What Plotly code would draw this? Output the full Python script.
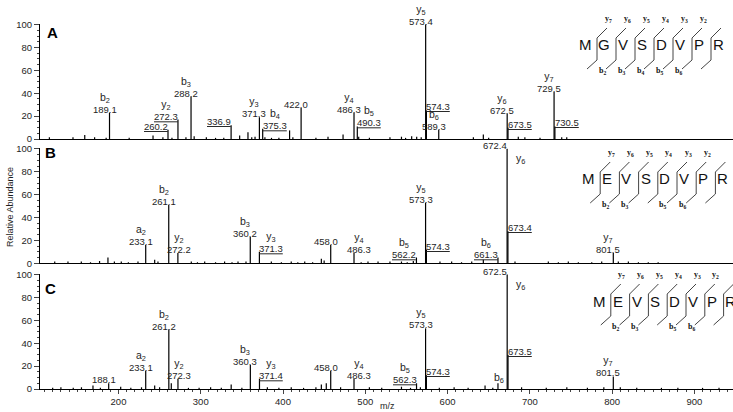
import plotly.graph_objects as go

W, H = 733, 412

# ---------------- data ----------------
# Panel A : MGVSDVPR
a_mz = [189.1, 260.2, 272.3, 288.2, 336.9, 371.3, 375.3, 422.0, 486.3, 490.3,
        573.4, 574.3, 589.3, 672.5, 673.5, 729.5, 730.5]
a_int = [23, 8, 17, 37, 12, 19, 9, 27, 23, 11, 100, 25, 8, 22, 10, 41, 11]
a_ion = ['b2', '', 'y2', 'b3', '', 'y3', 'b4', '', 'y4', 'b5',
         'y5', '', 'b6', 'y6', '', 'y7', '']
a_txt = ['189.1', '260.2', '272.3', '288.2', '336.9', '371.3', '375.3', '422.0', '486.3', '490.3',
         '573.4', '574.3', '589.3', '672.5', '673.5', '729.5', '730.5']
a_noise_mz = [116, 144.7, 159, 171, 185, 213, 242, 254, 265, 282, 292, 306.8, 318, 328,
              347.3, 357.4, 362, 366, 378, 386, 395, 408, 412, 440, 454.7, 473, 492, 505,
              530, 544, 549, 556.4, 562.5, 568, 631.4, 643.5, 650, 686, 694, 712.4, 738.8, 744.9]
a_noise_int = [1.5, 1.5, 3.5, 1.5, 1, 1, 3, 1.5, 1, 1.5, 2.5, 1.5, 1, 1,
               3, 6, 1.5, 2, 1.5, 1, 1, 7.5, 1.5, 1, 2, 4, 2, 1,
               1.5, 2, 1, 2.5, 2, 1.5, 1.5, 4, 1, 2, 1.5, 1, 1.5, 1.5]

# Panel B : MEVSDVPR
b_mz = [233.1, 261.1, 272.2, 360.2, 371.3, 458.0, 486.3, 562.2, 573.3, 574.3,
        661.3, 672.4, 673.4, 801.5]
b_int = [16, 51, 9, 23, 10, 16, 9, 5, 53, 12, 5, 100, 28, 9]
b_ion = ['a2', 'b2', 'y2', 'b3', 'y3', '', 'y4', 'b5', 'y5', '', 'b6', 'y6', '', 'y7']
b_txt = ['233.1', '261.1', '272.2', '360.2', '371.3', '458.0', '486.3', '562.2', '573.3', '574.3',
         '661.3', '672.4', '673.4', '801.5']
b_noise_mz = [122.5, 138.6, 154.8, 166, 177, 187.2, 195, 203.4, 212, 223.7, 244, 248,
              288.5, 296, 304.8, 318, 329, 338, 345.3, 355, 385.8, 398, 410, 418, 426.4,
              436, 446.6, 450, 495, 503.3, 515.5, 530, 544, 551, 558.4, 590.8, 605, 617,
              629.4, 643.5, 682, 722.5, 734.7, 746.8, 759, 775.3, 787.4, 807.6, 819.8,
              832, 844, 856]
b_noise_int = [1.5, 1.5, 1.5, 1, 2, 5, 1.5, 1.5, 1, 1.5, 3, 1.5,
               1.5, 1, 1.5, 1, 1.5, 1, 1.5, 1.5, 1.5, 1, 1.5, 1, 1.5,
               1, 4, 2.5, 1, 1.5, 1.5, 1.5, 1.5, 1, 2, 1.5, 1.5, 1,
               1.5, 3, 1.5, 1.5, 1, 1.5, 1, 1, 1.5, 1.5, 1.5,
               1, 1, 1]

# Panel C : MEVSDVPR
c_mz = [188.1, 233.1, 261.2, 272.3, 360.3, 371.4, 458.0, 486.3, 562.3, 573.3,
        574.3, 661.3, 672.5, 673.5, 801.5]
c_int = [5, 16, 52, 9, 21, 9, 16, 9, 5, 53, 12, 5, 100, 30, 11]
c_ion = ['', 'a2', 'b2', 'y2', 'b3', 'y3', '', 'y4', 'b5', 'y5', '', 'b6', 'y6', '', 'y7']
c_txt = ['188.1', '233.1', '261.2', '272.3', '360.3', '371.4', '458.0', '486.3', '562.3', '573.3',
         '574.3', '', '672.5', '673.5', '801.5']
c_noise_mz = [120, 130, 145, 155, 169, 178, 202.7, 215, 228, 244, 250, 264.2, 285, 298,
              312, 325, 337, 350, 381, 395, 410, 425, 440, 446.6, 452.6, 470, 505, 520,
              544, 555, 567, 590, 608, 625, 645.6, 655, 690, 720, 745, 770, 790, 810,
              830, 860, 880, 910, 930]
c_noise_int = [1, 1.5, 1, 1.5, 3, 1, 2, 1, 1.5, 3, 1.5, 5, 1, 1,
               1.5, 1, 4, 1, 1.5, 1, 1.5, 1, 1.5, 4, 5, 1.5, 1.5, 1,
               2, 1, 1.5, 1, 1.5, 1, 3, 1, 1.5, 1, 1.5, 1, 1.5, 1.5,
               1, 1, 1, 1, 1]

seq_a = 'MGVSDVPR'
seq_b = 'MEVSDVPR'
y_ions = ['y7', 'y6', 'y5', 'y4', 'y3', 'y2']
b_ions_a = ['b2', 'b3', 'b4', 'b5', 'b6']
b_ions_bc = ['b2', 'b3', None, 'b5', 'b6']

# ---------------- label placement (style only) ----------------
a_place = ['c', 'r', 'r', 'c', 'r', 'c', 'l', 'c', 'c', 'l', 'c', 'l', 'c', 'c', 'l', 'c', 'l']
b_place = ['c', 'c', 'c0', 'c', 'l', 'c', 'c+', 'r', 'c', 'l', 'r', 'rs', 'l', 'c']
c_place = ['c', 'c', 'c', 'c0', 'c', 'l', 'c', 'c+', 'r', 'c', 'l', 'c0', 'rs', 'l', 'c']
MODES = {'c': ('center', -5), 'c0': ('center', 1), 'c+': ('center', 5),
         'l': ('left', -1), 'r': ('right', 1), 'rs': ('right', 1)}

FONT = 'Arial, Liberation Sans, sans-serif'
TXT = '#1e1e1e'


def px(x):
    return x / W


def py(y):
    return 1 - y / H


def ion_html(s):
    return s[0] + '<sub>' + s[1:] + '</sub>'


def sticks(mz, inten):
    xs, ys = [], []
    for m, v in zip(mz, inten):
        xs += [m, m, None]
        ys += [0, v, None]
    return xs, ys


def paper_text(x, y, text, **kw):
    d = dict(x=px(x), y=py(y), xref='paper', yref='paper', text=text, showarrow=False,
             xanchor='center', yanchor='middle')
    d.update(kw)
    return d


fig = go.Figure()
annotations = []
shapes = []

panels = [
    ('1', a_mz, a_int, a_ion, a_txt, a_place, a_noise_mz, a_noise_int),
    ('2', b_mz, b_int, b_ion, b_txt, b_place, b_noise_mz, b_noise_int),
    ('3', c_mz, c_int, c_ion, c_txt, c_place, c_noise_mz, c_noise_int),
]

for k, mz, inten, ions, txts, places, nmz, nint in panels:
    xr, yr = 'x' + k, 'y' + k
    xs, ys = sticks(nmz + mz, nint + inten)
    fig.add_trace(go.Scatter(x=xs, y=ys, mode='lines', xaxis=xr, yaxis=yr,
                             line=dict(color='black', width=1.2), hoverinfo='skip'))
    for m, v, ion, t, p in zip(mz, inten, ions, txts, places):
        anchor, shift = MODES[p]
        num = t
        if p in ('l', 'r') and t:
            num = '<u>' + t + '</u>'
        if p == 'rs':
            text = num
            annotations.append(dict(x=m, y=v, xref=xr, yref=yr, text=ion_html(ion),
                                    showarrow=False, xanchor='left', yanchor='top',
                                    xshift=7, yshift=-1, font=dict(size=10.5)))
        elif ion and t:
            text = '<span style="font-size:10.5px">' + ion_html(ion) + '</span><br>' + num
        elif ion:
            text = '<span style="font-size:10.5px">' + ion_html(ion) + '</span>'
        else:
            text = num
        annotations.append(dict(x=m, y=v, xref=xr, yref=yr, text=text, showarrow=False,
                                xanchor=anchor, yanchor='bottom', xshift=shift, yshift=-3,
                                borderpad=0, align='center'))

# panel letters
for lab, (lx, ly) in zip(['A', 'B', 'C'], [(52, 33), (50, 153), (50, 288)]):
    annotations.append(paper_text(lx, ly, '<b>' + lab + '</b>', font=dict(size=15, color='black')))


# peptide fragmentation diagrams
def sequence(seq, x0, step, yc, tops, bottoms):
    small = dict(size=8, family='Liberation Serif, serif', color='#111')
    for i, ch in enumerate(seq):
        annotations.append(paper_text(x0 + i * step, yc, ch, font=dict(size=15, color='#111')))
    for i in range(1, len(seq)):
        vx = x0 + i * step - 7
        path = 'M {} {} L {} {} L {} {} L {} {}'.format(
            px(vx + 10), py(yc - 17), px(vx), py(yc - 7),
            px(vx), py(yc + 15), px(vx - 10), py(yc + 24))
        shapes.append(dict(type='path', path=path, xref='paper', yref='paper',
                           line=dict(color='#444', width=1)))
    for i, lab in enumerate(tops):
        annotations.append(paper_text(x0 + (i + 1) * step + 4, yc - 26,
                                      '<b>' + ion_html(lab) + '</b>', font=small))
    for i, lab in enumerate(bottoms):
        if lab is None:
            continue
        annotations.append(paper_text(x0 + (i + 1) * step - 2, yc + 26,
                                      '<b>' + ion_html(lab) + '</b>', font=small))


sequence(seq_a, 585, 19, 45, y_ions, b_ions_a)
sequence(seq_b, 588, 19.2, 179, y_ions, b_ions_bc)
sequence(seq_b, 599, 18.8, 301, y_ions, b_ions_bc)

annotations.append(paper_text(10, 207, 'Relative Abundance', textangle=-90, font=dict(size=9)))
annotations.append(paper_text(387, 406, 'm/z', font=dict(size=9)))

xdom = [px(40), 1.0]
xrange = [104.6, 947]
xbase = dict(domain=xdom, range=xrange, showline=True, linecolor='black', linewidth=1,
             showgrid=False, zeroline=False, automargin=False)
ybase = dict(range=[0, 100.5], showline=True, linecolor='black', linewidth=1, showgrid=False,
             zeroline=False, tickmode='linear', tick0=0, dtick=20, ticks='outside', ticklen=5,
             tickfont=dict(size=9.5), minor=dict(dtick=5, ticks='outside', ticklen=2.5),
             automargin=False)

fig.update_layout(
    width=W, height=H, margin=dict(l=0, r=0, t=0, b=0, pad=0),
    plot_bgcolor='white', paper_bgcolor='white', showlegend=False,
    font=dict(family=FONT, size=9.5, color=TXT),
    xaxis1=dict(xbase, anchor='y1', showticklabels=False, ticks=''),
    xaxis2=dict(xbase, anchor='y2', showticklabels=False, ticks='', matches='x1'),
    xaxis3=dict(xbase, anchor='y3', matches='x1', tickmode='linear', tick0=100, dtick=100,
                ticks='outside', ticklen=4, tickfont=dict(size=9.5),
                minor=dict(dtick=10, ticks='outside', ticklen=2)),
    yaxis1=dict(ybase, anchor='x1', domain=[py(139), py(24)]),
    yaxis2=dict(ybase, anchor='x2', domain=[py(263.3), py(148.3)]),
    yaxis3=dict(ybase, anchor='x3', domain=[py(389), py(274)]),
    annotations=annotations,
    shapes=shapes,
)

# the page's default body margin would push the 733x412 figure out of the window
fig.write_html("out.html", config={'displayModeBar': False},
               post_script="document.body.style.margin='0';")
